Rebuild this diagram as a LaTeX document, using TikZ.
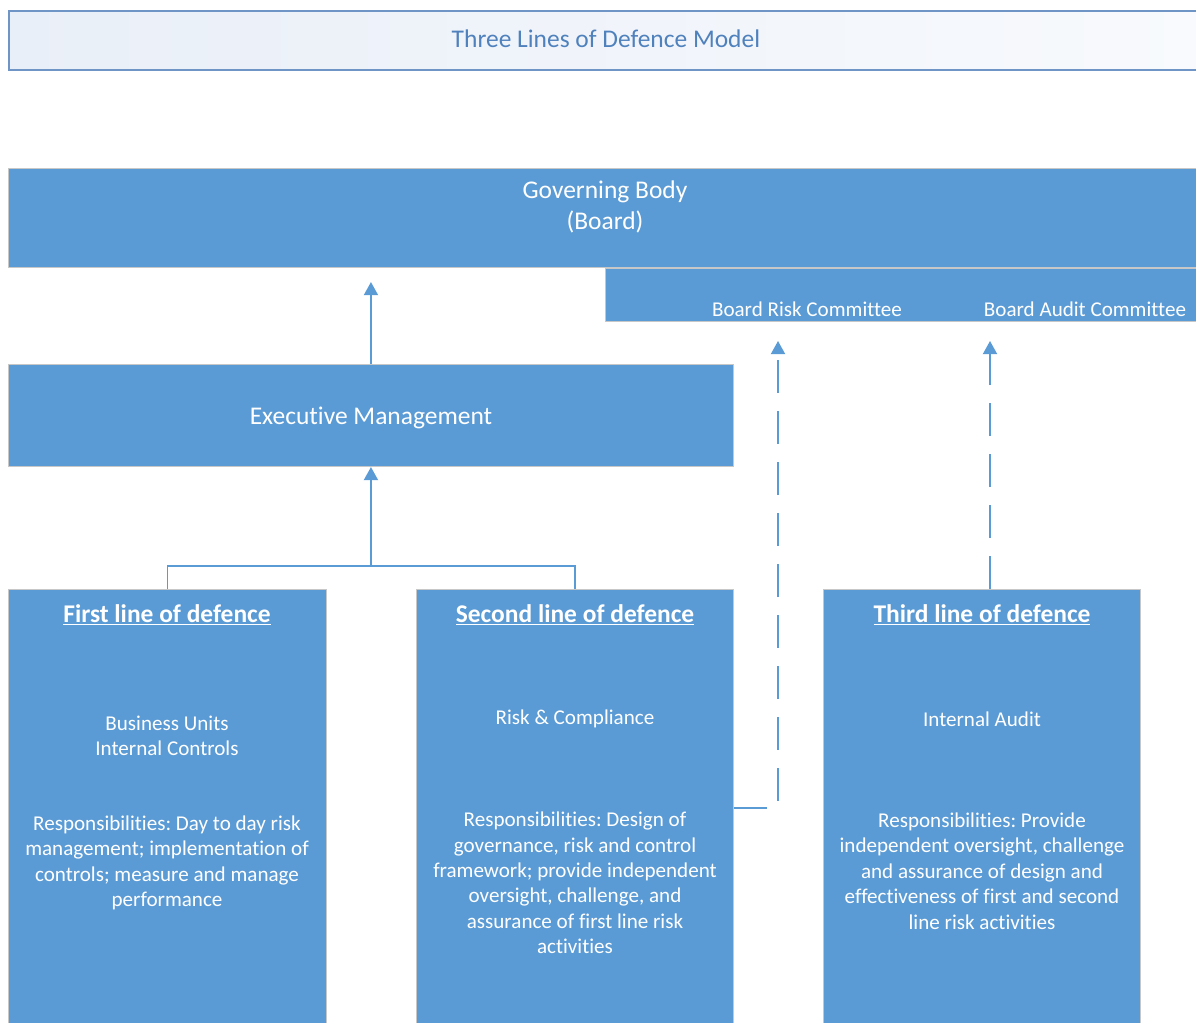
\documentclass[tikz,border=0pt]{standalone}
\usepackage{fontspec}
\setmainfont{Carlito}[Ligatures={NoCommon,NoRare,NoContextual}, RawFeature=-liga]
\frenchspacing
\usetikzlibrary{arrows.meta,calc}
\definecolor{boxblue}{HTML}{5B9BD5}
\definecolor{titleblue}{HTML}{4F81BD}
\definecolor{titleedge}{HTML}{6F94C6}
\definecolor{titlefillA}{HTML}{E9EFF8}
\definecolor{titlefillB}{HTML}{F8FAFD}
\tikzset{box/.style={draw=black!22, line width=0.6pt, fill=boxblue, anchor=north west, inner sep=0pt}}
\tikzset{big/.style={font=\fontsize{14.5}{17.5}\selectfont, text=white, align=center}}
\tikzset{head/.style={font=\fontsize{14.5}{17.5}\selectfont\bfseries, text=white}}
\tikzset{txt/.style={font=\fontsize{12}{14.5}\selectfont, text=white, align=center}}
\tikzset{link/.style={boxblue, line width=1.1pt}}
\tikzset{tip/.style={-{Triangle[width=8pt,length=7.5pt]}}}
\tikzset{dashline/.style={dash pattern=on 0.66cm off 0.36cm}}

\begin{document}
\begin{tikzpicture}[x=0.02cm,y=-0.02cm]
  \path[use as bounding box, clip] (0,0) rectangle (1196,1023);
  % title bar
  \node[draw=titleedge, line width=1.2pt, left color=titlefillA, right color=titlefillB,
        anchor=north west, minimum width=23.88cm, minimum height=1.18cm, inner sep=0pt,
        text depth=2.5pt, text=titleblue, font=\fontsize{14.5}{17.5}\selectfont] (title) at (8,10) {Three Lines of Defence Model};
  % board
  \node[box, minimum width=23.88cm, minimum height=1.98cm] (gov) at (8,168) {};
  \node[big] at (605,207) {Governing Body\\(Board)};
  \node[box, minimum width=11.94cm, minimum height=1.06cm] (cttee) at (605,268) {};
  \node[txt] (riskc) at (807,309) {Board Risk Committee};
  \node[txt] (auditc) at (1085,309) {Board Audit Committee};
  % management
  \node[box, minimum width=14.5cm, minimum height=2.04cm] (exec) at (8,364) {};
  \node[big] at (371,418) {Executive Management};
  % three lines
  \node[box, minimum width=6.36cm, minimum height=9.1cm] (first) at (8,589) {};
  \node[head] at (167,615) {\underline{First line of defence}};
  \node[txt] at (167,736) {Business Units\\Internal Controls};
  \node[txt] at (167,863) {Responsibilities: Day to day risk\\management; implementation of\\controls; measure and manage\\performance};
  \node[box, minimum width=6.34cm, minimum height=9.1cm] (second) at (416,589) {};
  \node[head] at (575,615) {\underline{Second line of defence}};
  \node[txt] at (575,719) {Risk \& Compliance};
  \node[txt] at (575,883) {Responsibilities: Design of\\governance, risk and control\\framework; provide independent\\oversight, challenge, and\\assurance of first line risk\\activities};
  \node[box, minimum width=6.34cm, minimum height=9.1cm] (third) at (823,589) {};
  \node[head] at (982,615) {\underline{Third line of defence}};
  \node[txt] at (982,719) {Internal Audit};
  \node[txt] at (982,871) {Responsibilities: Provide\\independent oversight, challenge\\and assurance of design and\\effectiveness of first and second\\line risk activities};
  % connectors
  \coordinate (join) at (371,566);
  \coordinate (riskin) at (778,341);
  \coordinate (auditin) at (990,341);
  \draw[link, tip, shorten >=0.28cm] (exec.north) -- (exec.north |- gov.south);
  \draw[link] (first.north) |- (join) -| (second.north);
  \draw[link, tip] (join) -- (exec.south);
  \draw[link, dashline, tip] (second.east |- 0,808) -| (riskin);
  \draw[link, dashline, tip] (auditin |- third.north) -- (auditin);
\end{tikzpicture}
\end{document}
